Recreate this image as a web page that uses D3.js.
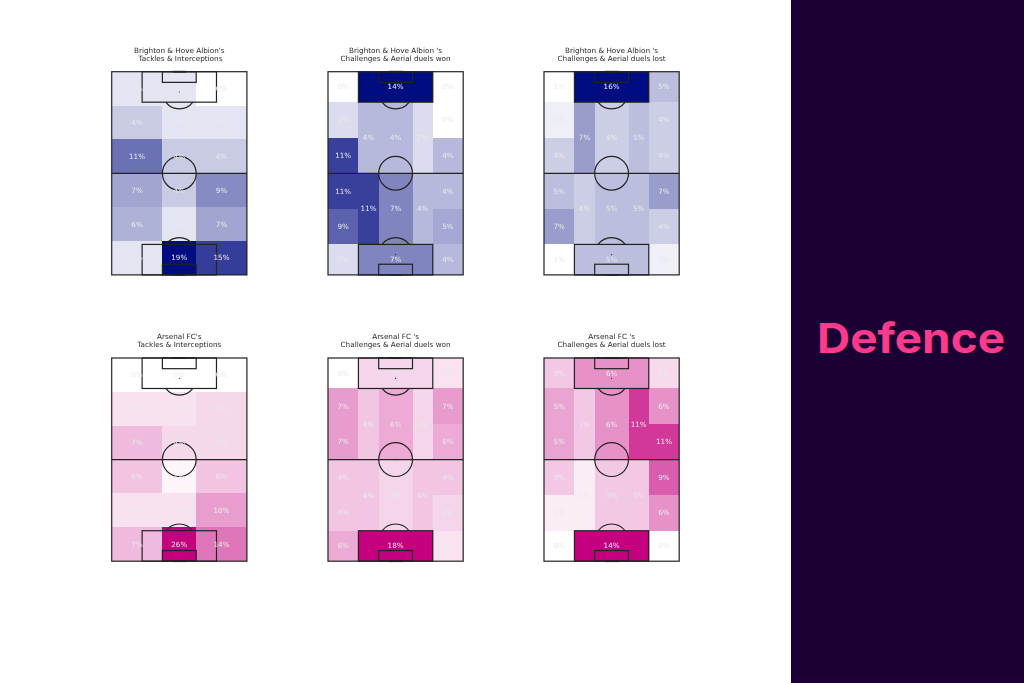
<!DOCTYPE html>
<html>
<head>
<meta charset="utf-8">
<script src="https://cdn.jsdelivr.net/npm/d3@7"></script>
<style>
  html, body { margin: 0; padding: 0; background: #fff; }
  svg { display: block; }
  .title { font-family: "DejaVu Sans", sans-serif; font-size: 7.25px; fill: #2a2a2a; text-anchor: middle; }
  .pct { font-family: "DejaVu Sans", sans-serif; font-size: 7.2px; fill: #e9e9ec; text-anchor: middle; dominant-baseline: central; }
  .line { fill: none; stroke: #222; stroke-width: 1.2; }
</style>
</head>
<body>
<div id="chart"></div>
<script>
// tackles maps are split in a 3x6 grid, duels maps in positional zones
var gridRows = [[0, 20], [20, 40], [40, 60], [60, 80], [80, 100], [100, 120]]
var gridCols = [[0, 30], [30, 50], [50, 80]]

// pitch units, zones read left to right, top to bottom
var zones = [
  [0, 18, 0, 18], [18, 62, 0, 18], [62, 80, 0, 18],
  [0, 18, 18, 39], [0, 18, 39, 60], [0, 18, 60, 81], [0, 18, 81, 102],
  [18, 30, 18, 60], [18, 30, 60, 102],
  [30, 50, 18, 60], [30, 50, 60, 102],
  [50, 62, 18, 60], [50, 62, 60, 102],
  [62, 80, 18, 39], [62, 80, 39, 60], [62, 80, 60, 81], [62, 80, 81, 102],
  [0, 18, 102, 120], [18, 62, 102, 120], [62, 80, 102, 120]
]

var brightonTackles = [2, 2, 0, 4, 2, 2, 11, 4, 4, 7, 4, 9, 6, 2, 7, 2, 19, 15]
var arsenalTackles = [0, 0, 0, 3, 3, 4, 7, 4, 4, 6, 1, 6, 3, 3, 10, 7, 26, 14]

var brightonWon = [0, 14, 0, 2, 11, 11, 9, 4, 11, 4, 7, 2, 4, 0, 4, 4, 5, 2, 7, 4]
var brightonLost = [1, 16, 5, 2, 4, 5, 7, 7, 4, 4, 5, 5, 5, 4, 4, 7, 4, 1, 5, 2]
var arsenalWon = [0, 3, 2, 7, 7, 4, 4, 4, 4, 6, 3, 3, 4, 7, 6, 4, 3, 6, 18, 2]
var arsenalLost = [3, 6, 2, 5, 5, 3, 1, 3, 1, 6, 3, 11, 3, 6, 11, 9, 6, 0, 14, 0]

var blueEnd = "#000a80", pinkEnd = "#c5007f"

var panels = [
  { col: 0, row: 0, title: ["Brighton & Hove Albion's", " Tackles & Interceptions"], values: brightonTackles, grid: true, end: blueEnd },
  { col: 1, row: 0, title: ["Brighton & Hove Albion 's", "Challenges & Aerial duels won"], values: brightonWon, end: blueEnd },
  { col: 2, row: 0, title: ["Brighton & Hove Albion 's", "Challenges & Aerial duels lost"], values: brightonLost, end: blueEnd },
  { col: 0, row: 1, title: ["Arsenal FC's", "Tackles & Interceptions"], values: arsenalTackles, grid: true, end: pinkEnd },
  { col: 1, row: 1, title: ["Arsenal FC 's", "Challenges & Aerial duels won"], values: arsenalWon, end: pinkEnd },
  { col: 2, row: 1, title: ["Arsenal FC 's", "Challenges & Aerial duels lost"], values: arsenalLost, end: pinkEnd }
]

var W = 1024, H = 683
var colX = [111.7, 328, 544]
var rowY = [71.7, 358]
var pitchW = 135.2, pitchH = 203.2

var svg = d3.select("#chart").append("svg").attr("width", W).attr("height", H)

svg.append("rect").attr("width", W).attr("height", H).attr("fill", "#fff")

// the reference is a little soft, as if scaled down
var defs = svg.append("defs")
defs.append("filter").attr("id", "soft")
  .attr("filterUnits", "userSpaceOnUse")
  .attr("x", 0).attr("y", 0).attr("width", W).attr("height", H)
  .append("feGaussianBlur").attr("stdDeviation", 0.45)

panels.forEach(function (p) {
  var left = colX[p.col], top = rowY[p.row]
  var x = d3.scaleLinear().domain([0, 80]).range([left, left + pitchW])
  var y = d3.scaleLinear().domain([0, 120]).range([top, top + pitchH])
  var color = d3.scaleLinear().domain(d3.extent(p.values)).range(["#ffffff", p.end])

  var cells = p.grid
    ? d3.cross(gridRows, gridCols).map(function (d) { return [d[1][0], d[1][1], d[0][0], d[0][1]] })
    : zones

  var g = svg.append("g").attr("filter", "url(#soft)")

  g.selectAll("rect.cell").data(cells).join("rect")
    .attr("class", "cell")
    .attr("x", function (d) { return x(d[0]) })
    .attr("y", function (d) { return y(d[2]) })
    .attr("width", function (d) { return x(d[1]) - x(d[0]) })
    .attr("height", function (d) { return y(d[3]) - y(d[2]) })
    .attr("fill", function (d, i) { return color(p.values[i]) })
    .attr("shape-rendering", "crispEdges")

  // pitch markings
  var box = function (x0, x1, y0, y1) {
    g.append("rect").attr("class", "line")
      .attr("x", x(x0)).attr("y", y(y0))
      .attr("width", x(x1) - x(x0)).attr("height", y(y1) - y(y0))
  }
  box(0, 80, 0, 120)
  box(18, 62, 0, 18)
  box(18, 62, 102, 120)
  box(30, 50, 0, 6.3)
  box(30, 50, 113.7, 120)
  g.append("line").attr("class", "line")
    .attr("x1", x(0)).attr("x2", x(80)).attr("y1", y(60)).attr("y2", y(60))
  g.append("circle").attr("class", "line")
    .attr("cx", x(40)).attr("cy", y(60)).attr("r", x(10) - x(0))

  // goals sit on the end lines
  ;[0, 120].forEach(function (d) {
    g.append("line").attr("stroke", "#222").attr("stroke-width", 1.8)
      .attr("x1", x(36)).attr("x2", x(44)).attr("y1", y(d)).attr("y2", y(d))
  })

  // penalty arcs and spots
  var r = x(10) - x(0)
  var arc = d3.arc().innerRadius(r).outerRadius(r)
  var ang = Math.acos(6 / 10)
  g.append("path").attr("class", "line")
    .attr("transform", "translate(" + x(40) + "," + y(12) + ")")
    .attr("d", arc({ startAngle: Math.PI - ang, endAngle: Math.PI + ang }))
  g.append("path").attr("class", "line")
    .attr("transform", "translate(" + x(40) + "," + y(108) + ")")
    .attr("d", arc({ startAngle: -ang, endAngle: ang }))
  ;[12, 60, 108].forEach(function (s) {
    g.append("circle").attr("cx", x(40)).attr("cy", y(s)).attr("r", 0.6).attr("fill", "#222")
  })

  g.selectAll("text.pct").data(cells).join("text")
    .attr("class", "pct")
    .attr("x", function (d) { return x((d[0] + d[1]) / 2) })
    .attr("y", function (d) { return y((d[2] + d[3]) / 2) })
    .text(function (d, i) { return p.values[i] + "%" })

  // two line title
  var cx = left + pitchW / 2
  p.title.forEach(function (t, i) {
    g.append("text").attr("class", "title")
      .attr("xml:space", "preserve")
      .attr("x", cx).attr("y", top - 19 + i * 8)
      .text(t)
  })
})

// side band
svg.append("rect").attr("x", 791).attr("y", 0).attr("width", W - 791).attr("height", H).attr("fill", "#1a0033")
svg.append("text")
  .attr("x", 817).attr("y", 353)
  .attr("font-family", "Inter, sans-serif")
  .attr("font-weight", 700)
  .attr("font-size", 41)
  .attr("textLength", 188)
  .attr("lengthAdjust", "spacingAndGlyphs")
  .attr("fill", "#ff3a8c")
  .text("Defence")
</script>
</body>
</html>
